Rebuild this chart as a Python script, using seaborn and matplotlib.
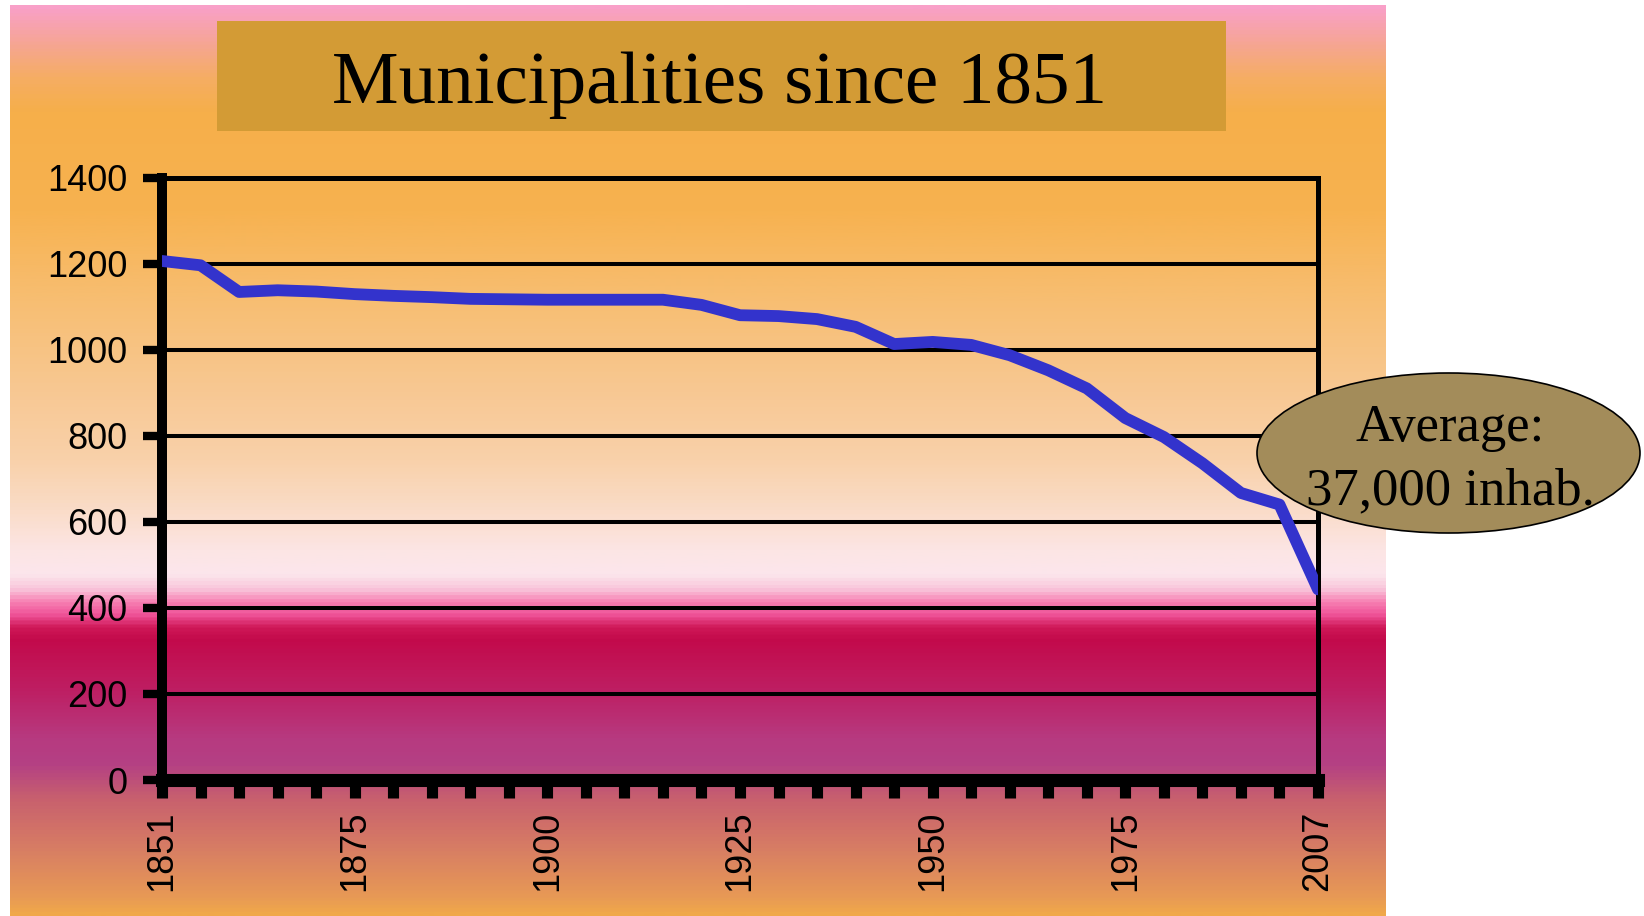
import matplotlib
matplotlib.use("Agg")
import matplotlib.pyplot as plt
import numpy as np
import pandas as pd
import seaborn as sns
from matplotlib.colors import LinearSegmentedColormap
from matplotlib.patches import Ellipse, Rectangle

# municipalities, one value per category tick (31 ticks from 1851 to 2007)
counts = [1206, 1196, 1134, 1138, 1135, 1129, 1125, 1122, 1118, 1117,
          1116, 1116, 1116, 1116, 1104, 1080, 1078, 1071, 1053, 1013,
          1018, 1011, 987, 952, 910, 841, 797, 736, 667, 640, 443]
label_years = ["1851", "1875", "1900", "1925", "1950", "1975", "2007"]
y_ticks = [0, 200, 400, 600, 800, 1000, 1200, 1400]

TITLE = "Municipalities since 1851"
NOTE = ["Average:", "37,000 inhab."]

W, H = 1644, 916  # figure size in px (dpi 100)
SERIF = ["Liberation Serif", "DejaVu Serif"]

sns.set_theme(style="ticks", rc={
    "figure.facecolor": "white",
    "axes.spines.top": True,
    "axes.spines.right": True,
    "text.color": "black",
    "xtick.color": "black",
    "ytick.color": "black",
})
plt.rcParams["font.family"] = ["Liberation Sans", "DejaVu Sans"]

# slide background, colour stops read top to bottom (px)
bg_stops = [
    (5, "#F9A0C8"), (40, "#F6A596"), (75, "#F5AD64"), (110, "#F6AF4A"),
    (210, "#F7B250"), (300, "#F7BE72"), (400, "#F8C996"), (460, "#F9D1AA"),
    (510, "#FADCC8"), (550, "#FCE5E4"), (575, "#FCE6EC"), (590, "#F9C4DA"),
    (603, "#F77FB2"), (615, "#F0559A"), (628, "#CF1858"), (640, "#C30A4B"),
    (690, "#BE1E62"), (740, "#B73A80"), (765, "#B44084"), (800, "#C8606E"),
    (850, "#D77D64"), (900, "#E89A55"), (916, "#F0A84A"),
]
top, bottom = bg_stops[0][0], bg_stops[-1][0]
cmap = LinearSegmentedColormap.from_list(
    "slide", [((y - top) / (bottom - top), c) for y, c in bg_stops])

fig = plt.figure(figsize=(W / 100, H / 100), dpi=100)

bg = fig.add_axes([10 / W, 0, 1375 / W, (bottom - top) / H], zorder=-2)
bg.imshow(np.linspace(0, 1, 900).reshape(-1, 1), cmap=cmap, aspect="auto",
          extent=[0, 1, 0, 1], origin="upper", interpolation="bilinear")
bg.set_axis_off()

# title banner
fig.add_artist(Rectangle((217 / W, 1 - 131 / H), 1009 / W, 110 / H,
                         transform=fig.transFigure, fc="#D39B35", ec="none"))
fig.text(719 / W, 1 - 103 / H, TITLE, ha="center", va="baseline",
         fontsize=54, color="black", family=SERIF)

# chart
ax = fig.add_axes([162 / W, 1 - 780 / H, 1156 / W, 602.5 / H])
ax.patch.set_alpha(0)

df = pd.DataFrame({"pos": np.arange(len(counts)), "count": counts})
sns.lineplot(data=df, x="pos", y="count", color="#3333CC", lw=8.5,
             solid_joinstyle="round", ax=ax, zorder=3)

ax.set_xlim(0, len(counts) - 1)
ax.set_ylim(y_ticks[0], y_ticks[-1])
ax.set_yticks(y_ticks)
ax.set_xticks(np.arange(0, len(counts), 5))
ax.set_xticklabels(label_years, rotation=90)
ax.set_xticks(np.arange(len(counts)), minor=True)
ax.set_xlabel("")
ax.set_ylabel("")

ax.yaxis.grid(True, color="black", lw=2.9)
ax.set_axisbelow(True)

ax.spines["left"].set_linewidth(7.2)
ax.spines["bottom"].set_linewidth(9.4)
ax.spines["top"].set_linewidth(3.6)
ax.spines["right"].set_linewidth(3.6)
for s in ax.spines.values():
    s.set_color("black")

ax.tick_params(axis="y", length=14, width=6, pad=11, labelsize=26,
               colors="black")
ax.tick_params(axis="x", which="both", length=13, width=8, pad=9,
               labelsize=26, colors="black")

# callout
fig.add_artist(Ellipse((1448.5 / W, 1 - 453 / H), 383 / W, 160 / H,
                       transform=fig.transFigure, fc="#A38C5A", ec="black",
                       lw=1.2, zorder=5))
for txt, base in zip(NOTE, [441, 504]):
    fig.text(1450 / W, 1 - base / H, txt, ha="center", va="baseline",
             fontsize=38, color="black", family=SERIF, zorder=6)

fig.savefig("out.png", dpi=100)
